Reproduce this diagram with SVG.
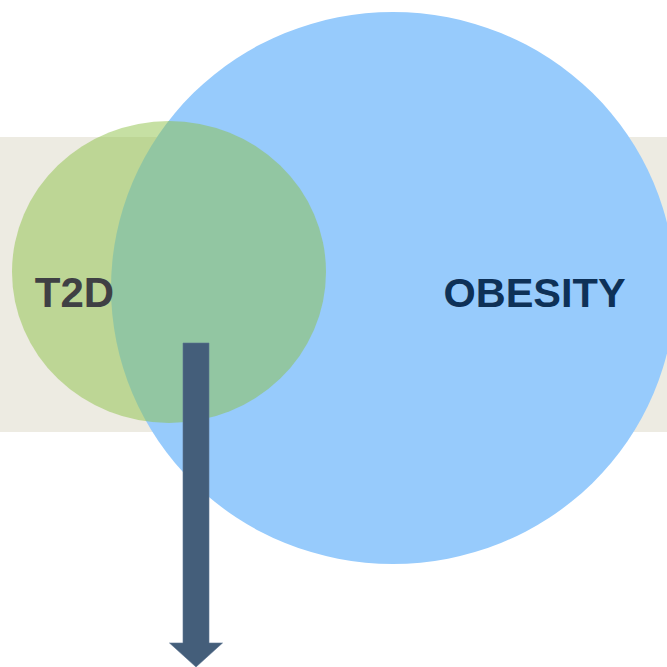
<svg xmlns="http://www.w3.org/2000/svg" width="667" height="667" viewBox="0 0 667 667">
  <style>
    .label { font-family: "Liberation Sans", Arial, sans-serif; font-weight: bold; }
  </style>
  <rect width="667" height="667" fill="#ffffff"/>
  <!-- background band -->
  <rect x="0" y="137" width="667" height="295" fill="#edebe2"/>
  <g id="obesity">
    <ellipse cx="393" cy="288" rx="282" ry="276" fill="#97cbfc"/>
    <text class="label" x="534.5" y="307" font-size="41.5" fill="#0e3157" text-anchor="middle">OBESITY</text>
  </g>
  <g id="t2d">
    <ellipse cx="169" cy="272" rx="157" ry="151" fill="#8dc147" fill-opacity="0.5"/>
    <text class="label" x="74.5" y="307" font-size="42" fill="#3f4044" text-anchor="middle">T2D</text>
  </g>
  <g id="connectors">
    <polygon points="183,343 209,343 209,643 222.5,643 196,667 169.5,643 183,643" fill="#445e7a" stroke="#5a7290" stroke-width="0.6"/>
  </g>
</svg>
